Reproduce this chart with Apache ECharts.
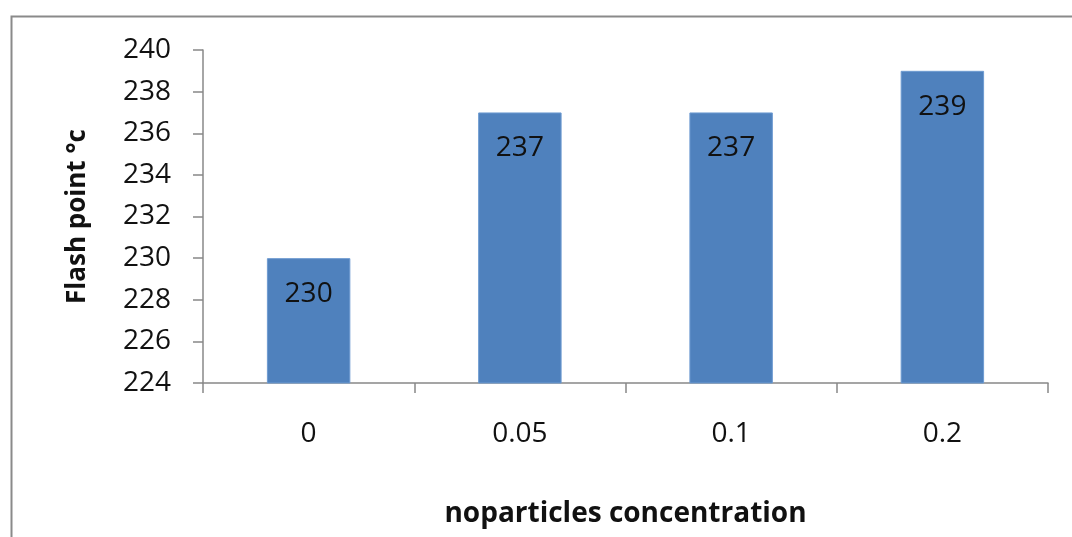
<!DOCTYPE html>
<html>
<head>
<meta charset="utf-8">
<script src="https://cdn.jsdelivr.net/npm/echarts@6/dist/echarts.min.js"></script>
<style>html,body{margin:0;padding:0;background:#fff}#c{width:1072px;height:537px}</style>
</head>
<body>
<div id="c"></div>
<script>
const categories = ['0', '0.05', '0.1', '0.2'];
const flashPoint = [230, 237, 237, 239];
const yTicks = [224, 226, 228, 230, 232, 234, 236, 238, 240];

const chart = echarts.init(document.getElementById('c'));
const font = '"Open Sans", "Noto Sans", sans-serif';
chart.setOption({
  animation: false,
  backgroundColor: '#fff',
  graphic: [{
    type: 'rect', left: 9, top: 14,
    shape: {width: 1200, height: 700},
    style: {fill: 'none', stroke: '#8a8a8a', lineWidth: 2}
  }],
  grid: {left: 203, right: 24, top: 50, bottom: 154},
  xAxis: {
    type: 'category',
    data: categories,
    name: 'noparticles concentration',
    nameLocation: 'middle',
    nameGap: 117,
    nameTextStyle: {fontFamily: font, fontSize: 28, fontWeight: 'bold', color: '#111'},
    axisLine: {lineStyle: {color: '#888', width: 1.5}},
    axisTick: {show: true, length: 10, lineStyle: {color: '#888', width: 1.5}},
    axisLabel: {fontFamily: font, fontSize: 28, color: '#111', margin: 37}
  },
  yAxis: {
    type: 'value',
    min: yTicks[0], max: yTicks[yTicks.length - 1], interval: 2,
    name: 'Flash point °c',
    nameLocation: 'middle',
    nameRotate: 90,
    nameGap: 112,
    nameTextStyle: {fontFamily: font, fontSize: 26, fontWeight: 'bold', color: '#111'},
    axisLine: {show: true, lineStyle: {color: '#888', width: 1.5}},
    axisTick: {show: true, length: 10, lineStyle: {color: '#888', width: 1.5}},
    splitLine: {show: false},
    axisLabel: {fontFamily: font, fontSize: 28, color: '#111', margin: 32}
  },
  series: [{
    type: 'bar',
    data: flashPoint,
    barWidth: '39.5%',
    itemStyle: {color: '#4F81BD', borderColor: '#6e9bd1', borderWidth: 1},
    label: {
      show: true, position: 'insideTop', distance: 22,
      fontFamily: font, fontSize: 28, color: '#111'
    }
  }]
});
</script>
</body>
</html>
